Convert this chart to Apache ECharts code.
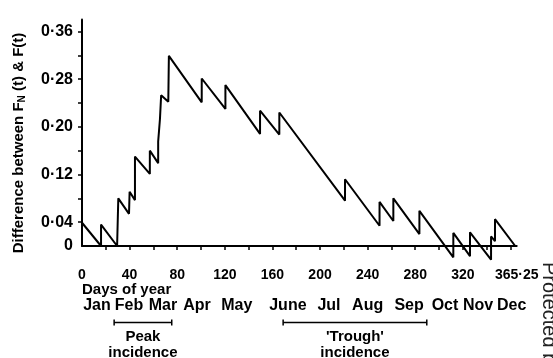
<!DOCTYPE html>
<html>
<head>
<meta charset="utf-8">
<script src="https://cdn.jsdelivr.net/npm/echarts@6/dist/echarts.min.js"></script>
<style>html,body{margin:0;padding:0;background:#fff;}#c{width:553px;height:358px;}</style>
</head>
<body>
<div id="c"></div>
<script>
// ---- data ----
const stepDays = [0,0,16,16,29.5,30.5,39.5,40,44.5,44.5,57,57,64,64,65.5,65.5,66.5,66.5,72.5,73,100.6,100.6,120.5,120.5,149.6,149.6,165.8,165.8,221,221,250,250,261.6,261.6,283.5,283.5,312,312,326,326,343.7,343.7,347,347,364];
const stepValues = [0,0.039,0,0.036,0,0.080,0.054,0.091,0.077,0.150,0.121,0.160,0.139,0.175,0.172,0.213,0.211,0.253,0.242,0.319,0.241,0.281,0.230,0.270,0.188,0.227,0.187,0.224,0.076,0.112,0.034,0.074,0.042,0.080,0.020,0.059,-0.019,0.022,-0.017,0.023,-0.023,0.016,0.008,0.045,0];
const xLabelDays = [0,40,80,120,160,200,240,280,320,365.25];
const xTickDays = [20,40,60,80,100,120,140,160,180,200,220,240,260,280,300,320,340,360];
const yLabelValues = [0,0.04,0.12,0.20,0.28,0.36];
const yTickValues = [0.04,0.08,0.12,0.16,0.20,0.24,0.28,0.32,0.36];
const monthNames = ['Jan','Feb','Mar','Apr','May','June','Jul','Aug','Sep','Oct','Nov','Dec'];
const monthLabelDays = [12.6,39.5,68,96.6,130,173,207.5,240,274.8,305,332.8,361];
const peakRange = [27,75.4];
const troughRange = [169,289.7];
const yAxisTitle = 'Difference between F{s|N} (t) & F(t)';
const xAxisTitle = 'Days of year';

const FONT = 'Liberation Sans';
const fmtNum = v => (v === 0 ? '0' : String(v).replace('.', '·'));
const fmtY = v => (v === 0 ? '0' : v.toFixed(2).replace('.', '·'));

const chart = echarts.init(document.getElementById('c'), null, {renderer:'canvas'});
const option = {
  animation: false,
  backgroundColor: '#fff',
  grid: {left: 82, right: 36.3, top: 19.5, bottom: 112, containLabel: false},
  xAxis: [{
    type: 'value', min: 0, max: 365.25,
    axisLine: {show: true, lineStyle: {color: '#000', width: 2}},
    axisTick: {show: true, customValues: xTickDays, length: 4, inside: false, lineStyle: {color: '#000', width: 1.5}},
    axisLabel: {customValues: xLabelDays, formatter: fmtNum, margin: 22, fontSize: 14, fontWeight: 'bold', color: '#000', fontFamily: FONT},
    splitLine: {show: false}
  }, {
    type: 'value', min: 0, max: 365.25, position: 'bottom',
    axisLine: {show: false}, axisTick: {show: false}, splitLine: {show: false},
    axisLabel: {customValues: monthLabelDays, formatter: v => monthNames[monthLabelDays.indexOf(v)], margin: 52, fontSize: 16, fontWeight: 'bold', color: '#000', fontFamily: FONT}
  }],
  yAxis: {
    type: 'value', min: 0, max: 0.38,
    axisLine: {show: true, lineStyle: {color: '#000', width: 2}},
    axisTick: {show: true, customValues: yTickValues, length: 4, inside: false, lineStyle: {color: '#000', width: 1.5}},
    axisLabel: {customValues: yLabelValues, formatter: fmtY, margin: 9, fontSize: 16, fontWeight: 'bold', color: '#000', fontFamily: FONT},
    splitLine: {show: false}
  },
  series: [{
    type: 'line', xAxisIndex: 0, yAxisIndex: 0,
    data: stepDays.map((d, i) => [d, stepValues[i]]),
    showSymbol: false, clip: false,
    lineStyle: {color: '#000', width: 2},
    itemStyle: {color: '#000'}
  }]
};
chart.setOption(option);

const px = d => chart.convertToPixel({xAxisIndex: 0}, d);
const g = [];
const txt = (x, y, text, size, extra) => Object.assign({type: 'text', x: x, y: y, style: {text: text, fontSize: size, fontWeight: 'bold', fontFamily: FONT, fill: '#000', align: 'center', verticalAlign: 'middle'}}, extra || {});
// y axis title
g.push({type: 'text', x: 19, y: 143, rotation: Math.PI / 2,
  style: {text: yAxisTitle, fontSize: 15, fontWeight: 'bold', fontFamily: FONT, fill: '#000', align: 'center', verticalAlign: 'middle',
    rich: {s: {fontSize: 10, fontWeight: 'bold', fontFamily: FONT, fill: '#000', padding: [7, 0, 0, 0]}}}});
// x axis title
g.push({type: 'text', x: px(0), y: 290, style: {text: xAxisTitle, fontSize: 15, fontWeight: 'bold', fontFamily: FONT, fill: '#000', align: 'left', verticalAlign: 'middle'}});
// brackets
const bracket = (r, labels) => {
  const x0 = px(r[0]), x1 = px(r[1]), y = 322.5;
  g.push({type: 'line', shape: {x1: x0, y1: y, x2: x1, y2: y}, style: {stroke: '#000', lineWidth: 1.5}});
  g.push({type: 'line', shape: {x1: x0, y1: y - 3, x2: x0, y2: y + 3}, style: {stroke: '#000', lineWidth: 1.5}});
  g.push({type: 'line', shape: {x1: x1, y1: y - 3, x2: x1, y2: y + 3}, style: {stroke: '#000', lineWidth: 1.5}});
  const xm = (x0 + x1) / 2;
  g.push(txt(xm, 337, labels[0], 15));
  g.push(txt(xm, 353, labels[1], 15));
};
bracket(peakRange, ['Peak', 'incidence']);
bracket(troughRange, ["'Trough'", 'incidence']);
// watermark at right edge
g.push({type: 'text', x: 549, y: 262, rotation: -Math.PI / 2,
  style: {text: 'Protected by', fontSize: 20, fontFamily: FONT, fill: '#222', align: 'left', verticalAlign: 'middle'}});
chart.setOption({graphic: g});
</script>
</body>
</html>
